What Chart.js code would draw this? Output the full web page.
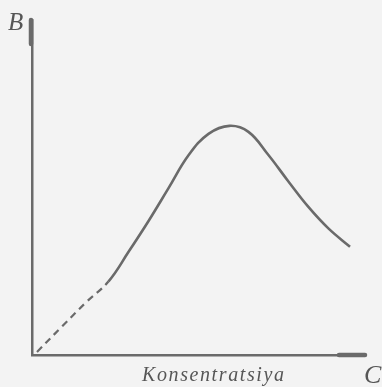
<!DOCTYPE html>
<html>
<head>
<meta charset="utf-8">
<script src="https://cdn.jsdelivr.net/npm/chart.js@4.4.1/dist/chart.umd.min.js"></script>
<style>
  html, body { margin: 0; padding: 0; background: #f3f3f3; }
  #wrap { width: 382px; height: 387px; position: relative; }
</style>
</head>
<body>
<div id="wrap"><canvas id="c" width="382" height="387"></canvas></div>
<script>
// Concentration (x) and B (y), arbitrary units
const concX = [0.15, 0.9, 1.6, 2.3, 2.9, 3.5, 4.1, 4.7, 5.3, 5.93, 6.5, 7.1, 7.7, 8.3, 8.9, 9.55];
const valB  = [0.09, 0.85, 1.55, 2.2, 3.08, 4.0, 4.98, 5.96, 6.6, 6.84, 6.66, 5.97, 5.18, 4.42, 3.78, 3.23];
const dashedUntil = 2.3;   // part of the curve drawn dashed (extrapolated)
const xLabel = 'Konsentratsiya';
const xName = 'C';
const yName = 'B';

const pts = concX.map((x, i) => ({ x: x, y: valB[i] }));
const ink = '#6a6a6a';

const annot = {
  id: 'annot',
  afterDraw(chart) {
    const { ctx, chartArea: a } = chart;
    ctx.save();
    ctx.strokeStyle = ink;
    ctx.lineCap = 'round';
    ctx.lineWidth = 4.5;
    ctx.beginPath(); ctx.moveTo(a.left - 1, a.top); ctx.lineTo(a.left - 1, a.top + 24); ctx.stroke();
    ctx.beginPath(); ctx.moveTo(a.right - 26, a.bottom); ctx.lineTo(a.right, a.bottom); ctx.stroke();
    ctx.fillStyle = '#565656';
    ctx.textBaseline = 'alphabetic';
    ctx.textAlign = 'left';
    ctx.font = 'italic 25px "Liberation Serif", serif';
    ctx.fillText(yName, 8, 30);
    ctx.font = 'italic 26px "Liberation Serif", serif';
    ctx.fillText(xName, 364, 383);
    ctx.font = 'italic 20px "Liberation Serif", serif';
    ctx.letterSpacing = '1.6px';
    ctx.fillText(xLabel, 142, 381);
    ctx.restore();
  }
};

new Chart(document.getElementById('c'), {
  type: 'scatter',
  data: {
    datasets: [{
      data: pts, showLine: true, borderColor: ink, borderWidth: 2.6,
      pointRadius: 0, tension: 0.4, fill: false,
      segment: {
        borderDash: c => (c.p1.parsed.x <= dashedUntil ? [7, 5] : undefined),
        borderWidth: c => (c.p1.parsed.x <= dashedUntil ? 2.2 : 2.6)
      }
    }]
  },
  options: {
    responsive: false,
    animation: false,
    layout: { padding: { left: 32, top: 20, right: 17, bottom: 32 } },
    plugins: { legend: { display: false }, tooltip: { enabled: false } },
    scales: {
      x: { type: 'linear', min: 0, max: 10,
           grid: { display: false, drawTicks: false },
           border: { display: true, color: ink, width: 2.5 },
           ticks: { display: false } },
      y: { type: 'linear', min: 0, max: 10,
           grid: { display: false, drawTicks: false },
           border: { display: true, color: ink, width: 2.5 },
           ticks: { display: false } }
    }
  },
  plugins: [annot]
});
</script>
</body>
</html>
